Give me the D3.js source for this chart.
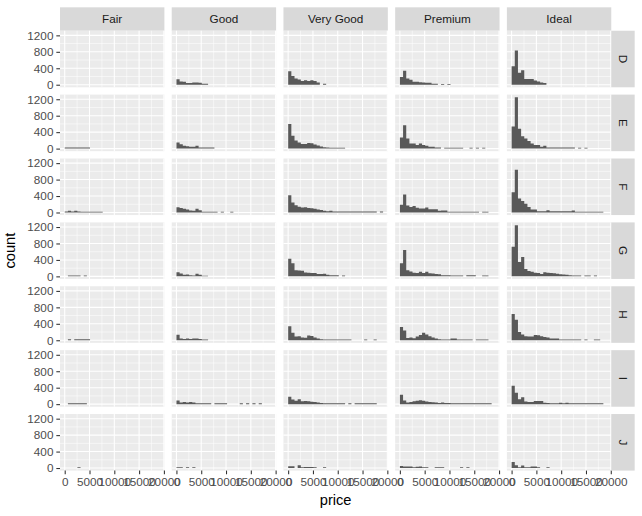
<!DOCTYPE html>
<html><head><meta charset="utf-8">
<script src="https://cdn.jsdelivr.net/npm/d3@7"></script>
<style>body{margin:0;background:#fff}svg text{font-family:"Liberation Sans",Arial,sans-serif}</style>
</head><body><svg id="c" width="642" height="516"></svg>
<script>
// ---- data ----
const cuts = ["Fair", "Good", "Very Good", "Premium", "Ideal"];
const colors = ["D", "E", "F", "G", "H", "I", "J"];
const xTicks = [0, 5000, 10000, 15000, 20000];
const xMinor = [2500, 7500, 12500, 17500];
const yTicks = [0, 400, 800, 1200];
const yMinor = [200, 600, 1000];
const priceMin = 326, priceMax = 18823, nBins = 30;

// counts per bin, rows D..J
const fair = [
  [],
  [25,25,25,25,25,25,25,25],
  [25,45,25,45,25,20,20,20,20,20,20,20],
  [0,22,22,22,22,0,22],
  [0,22,0,22,22,22,22,22],
  [0,22,22,22,22,22,22],
  [0,0,0,0,18]
];
const good = [
  [130,80,75,40,40,55,55,50,25,25],
  [150,105,72,56,48,48,72,24,24,24,24,24],
  [127,111,88,72,48,40,88,56,18,18,18,18,18,0,20,0,0,20],
  [103,72,40,48,30,24,64,40,18,18],
  [135,40,30,40,30,45,45,30,18,18],
  [90,40,50,40,50,40,20,20,20,20,20,0,20,20,20,20,0,0,0,0,20,0,20,0,20,0,20],
  [20,20,0,20,0,20]
];
const veryGood = [
  [330,210,150,125,90,110,90,110,90,55,0,25],
  [600,310,200,150,110,110,135,130,100,75,50,30,25,22,22,22,22,22],
  [420,240,175,140,120,130,110,100,90,70,60,45,30,40,25,22,22,22,22,22,22,22,22,22,22,22,22,22,0,22],
  [430,320,150,140,135,95,90,80,80,55,60,65,40,30,25,25,0,20],
  [340,180,90,100,70,60,115,105,70,45,25,18,18,18,18,18,18,18,18,18,0,0,0,0,18,0,0,18],
  [180,110,80,120,70,75,70,60,50,40,30,20,20,20,20,20,20,20,0,20,0,20,20,20,20,20,20,20],
  [45,45,0,70,20,25,25,25,20,0,0,20]
];
const premium = [
  [190,340,150,120,75,70,60,55,50,50,25,25,0,20,0,15],
  [270,565,246,127,127,88,127,88,72,48,48,24,24,0,20,20,20,20,20,20,0,0,20,0,20,0,20],
  [190,437,170,135,160,115,95,95,120,80,80,80,40,48,48,18,18,18,18,18,18,18,18,18,18,0,18,18],
  [320,640,150,120,90,80,110,80,110,75,70,60,50,30,30,30,20,20,20,20,0,25,25,25,0,0,20,20],
  [320,240,55,65,50,90,130,180,140,95,70,40,25,20,20,20,40,40,20,20,20,20,20,0,20,20,20,20],
  [230,90,40,55,70,80,95,85,65,55,45,40,30,40,30,30,20,20,20,20,20,20,20,20,20,20,20,20,20],
  [50,40,40,35,20,30,40,20,20,0,0,20,20,20,0,0,0,0,0,20,0,20]
];
const ideal = [
  [450,830,290,350,140,140,140,100,80,55,40],
  [540,1250,485,300,246,183,127,88,88,48,72,24,24,24,24,24,24,24,24,24,0,20,0,20],
  [490,1040,340,280,215,135,72,72,32,32,32,56,32,32,32,32,32,32,32,48,16,16,16,16,16,16,16,16,16],
  [720,1240,350,470,180,130,110,90,80,60,100,90,80,75,65,50,45,40,30,20,20,20,0,20,20,0,20],
  [640,500,200,140,95,90,90,125,120,100,80,70,40,40,40,18,18,18,18,18,18,18,0,18,0,0,18,18],
  [450,280,120,170,65,50,50,75,75,75,35,30,20,20,20,35,20,35,20,20,20,20,20,20,20,20,20,20,20],
  [145,65,20,60,20,20,40,40,20,0,0,20]
];
const countsByCut = [fair, good, veryGood, premium, ideal];

// ---- layout ----
const W = 642, H = 516;
const pt = 96 / 72;
const gap = 5.5 * pt, stripSize = 23.4;
const panelLeft = 60, panelRight = W - 5.5 * pt - stripSize;
const panelTop = 5.5 * pt + stripSize, panelBottom = 470.6;
const pw = (panelRight - panelLeft - 4 * gap) / 5;
const ph = (panelBottom - panelTop - 6 * gap) / 7;

const binWidth = (priceMax - priceMin) / (nBins - 1);
const edges = d3.range(nBins + 1).map(k => priceMin - binWidth / 2 + k * binWidth);
const lo = edges[0], hi = edges[nBins];
const x = d3.scaleLinear().domain([lo - 0.05 * (hi - lo), hi + 0.05 * (hi - lo)]).range([0, pw]);
const M = d3.max(countsByCut.flat(2));
const y = d3.scaleLinear().domain([-0.05 * M, 1.05 * M]).range([ph, 0]);

// histogram outline: each bin contributes its left and right edge at its count
const barArea = d3.area().x(p => x(p.x)).y0(y(0)).y1(p => y(p.n));

const svg = d3.select("#c");
svg.append("rect").attr("width", W).attr("height", H).attr("fill", "#fff");

const tickCol = "#333333", labCol = "#4D4D4D";
const fs = 8.8 * pt;

cuts.forEach((cut, j) => {
  const px = panelLeft + j * (pw + gap);
  // top strip
  svg.append("rect").attr("x", px).attr("y", 5.5 * pt).attr("width", pw).attr("height", stripSize).attr("fill", "#D9D9D9");
  svg.append("text").attr("x", px + pw / 2).attr("y", 5.5 * pt + stripSize / 2).attr("dy", "0.35em")
    .attr("text-anchor", "middle").attr("font-size", fs).attr("fill", "#1A1A1A").text(cut);

  colors.forEach((col, i) => {
    const py = panelTop + i * (ph + gap);
    const g = svg.append("g").attr("transform", `translate(${px},${py})`);
    g.append("rect").attr("width", pw).attr("height", ph).attr("fill", "#EBEBEB");
    // minor grid
    g.selectAll(null).data(xMinor).join("line").attr("x1", d => x(d)).attr("x2", d => x(d)).attr("y1", 0).attr("y2", ph)
      .attr("stroke", "#fff").attr("stroke-width", 0.53);
    g.selectAll(null).data(yMinor).join("line").attr("y1", d => y(d)).attr("y2", d => y(d)).attr("x1", 0).attr("x2", pw)
      .attr("stroke", "#fff").attr("stroke-width", 0.53);
    // major grid
    g.selectAll(null).data(xTicks).join("line").attr("x1", d => x(d)).attr("x2", d => x(d)).attr("y1", 0).attr("y2", ph)
      .attr("stroke", "#fff").attr("stroke-width", 1.07);
    g.selectAll(null).data(yTicks).join("line").attr("y1", d => y(d)).attr("y2", d => y(d)).attr("x1", 0).attr("x2", pw)
      .attr("stroke", "#fff").attr("stroke-width", 1.07);
    // bars (one seamless path per panel)
    const vals = countsByCut[j][i];
    const pts = [];
    d3.range(nBins).forEach(k => {
      const n = vals[k] || 0;
      pts.push({x: edges[k], n: 0}, {x: edges[k], n}, {x: edges[k + 1], n}, {x: edges[k + 1], n: 0});
    });
    g.append("path").datum(pts).attr("d", barArea).attr("fill", "#595959");

    if (j === 0) {
      const ax = g.append("g").call(d3.axisLeft(y).tickValues(yTicks).tickFormat(d3.format("d")).tickSize(2.75 * pt).tickPadding(2.2 * pt));
      ax.select(".domain").remove();
      ax.selectAll("line").attr("stroke", tickCol).attr("stroke-width", 1.07);
      ax.selectAll("text").attr("fill", labCol).attr("font-size", fs).attr("font-family", "Liberation Sans, Arial, sans-serif");
    }
    if (j === cuts.length - 1) {
      svg.append("rect").attr("x", panelRight).attr("y", py).attr("width", stripSize).attr("height", ph).attr("fill", "#D9D9D9");
      svg.append("text").attr("transform", `translate(${panelRight + stripSize / 2},${py + ph / 2}) rotate(90)`)
        .attr("dy", "0.35em").attr("text-anchor", "middle").attr("font-size", fs).attr("fill", "#1A1A1A").text(col);
    }
    if (i === colors.length - 1) {
      const ax = g.append("g").attr("transform", `translate(0,${ph})`)
        .call(d3.axisBottom(x).tickValues(xTicks).tickFormat(d3.format("d")).tickSize(2.75 * pt).tickPadding(2.2 * pt));
      ax.select(".domain").remove();
      ax.selectAll("line").attr("stroke", tickCol).attr("stroke-width", 1.07);
      ax.selectAll("text").attr("fill", labCol).attr("font-size", fs).attr("font-family", "Liberation Sans, Arial, sans-serif");
    }
  });
});

// axis titles
svg.append("text").attr("x", (panelLeft + panelRight) / 2).attr("y", 505)
  .attr("text-anchor", "middle").attr("font-size", 11 * pt).attr("fill", "#000").text("price");
svg.append("text").attr("transform", `translate(15,${(panelTop + panelBottom) / 2}) rotate(-90)`)
  .attr("text-anchor", "middle").attr("font-size", 11 * pt).attr("fill", "#000").text("count");
</script></body></html>
